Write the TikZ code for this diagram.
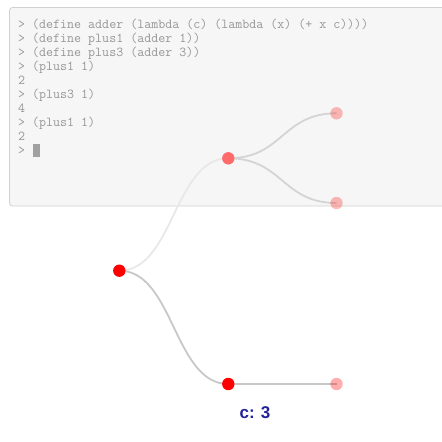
\documentclass[tikz,border=0pt]{standalone}
\usepackage{fontspec}
\setmainfont{Liberation Sans}
\setsansfont{Liberation Sans}
\definecolor{panelfill}{HTML}{F6F6F6}
\definecolor{paneldraw}{HTML}{D0D0D0}
\definecolor{replgray}{HTML}{979797}
\definecolor{linkgray}{HTML}{C8C8C8}
\definecolor{labelblue}{HTML}{22229A}
\tikzset{
  link/.style={draw=linkgray, line width=1.8pt},
  dot/.style={circle, fill=red, inner sep=0pt, minimum size=12.4pt},
  leaf/.style={dot, fill=red, fill opacity=0.27},
  repl/.style={anchor=base west, inner sep=0pt, text=replgray, font=\fontsize{13.6}{14}\selectfont\ttfamily}
}
\begin{document}
\begin{tikzpicture}[x=1pt, y=-1pt]
      \useasboundingbox (0,0) rectangle (442,442);
      % repl panel
      \filldraw[fill=panelfill, draw=paneldraw, line width=0.8pt, rounded corners=3pt] (9.5,7.5) rectangle (460,206);
      \foreach \i/\t in {0/{> (define adder (lambda (c) (lambda (x) (+ x c))))},
                         1/{> (define plus1 (adder 1))},
                         2/{> (define plus3 (adder 3))},
                         3/{> (plus1 1)},
                         4/{2},
                         5/{> (plus3 1)},
                         6/{4},
                         7/{> (plus1 1)},
                         8/{2},
                         9/{>}}
        \node[repl] (line\i) at (18,28.5+14*\i) {\t};
      \fill[replgray!90] (33.3,143.5) rectangle (40,156.5);
      % tree
      \coordinate (root) at (119.3,270.7);
      \coordinate (upper) at (228.3,158.3);
      \coordinate (lower) at (228.3,384);
      \coordinate (leafa) at (336.5,113.3);
      \coordinate (leafb) at (336.5,203);
      \coordinate (leafc) at (336.5,384);
      \draw[link, draw=black!9] (root) .. controls +(54.5,0) and +(-54.5,0) .. (upper);
      \draw[link] (root) .. controls +(54.5,0) and +(-54.5,0) .. (lower);
      \draw[link, draw=black!17] (upper) .. controls +(54.5,0) and +(-54.5,0) .. (leafa);
      \draw[link, draw=black!17] (upper) .. controls +(54.5,0) and +(-54.5,0) .. (leafb);
      \draw[link] (lower) -- (leafc);
      \node[dot] (rootdot) at (root) {};
      \node[dot, fill=red!58!white] (upperdot) at (upper) {};
      \node[dot] (lowerdot) at (lower) {};
      \node[leaf] (leafadot) at (leafa) {};
      \node[leaf] (leafbdot) at (leafb) {};
      \node[leaf, fill opacity=0.32] (leafcdot) at (leafc) {};
      \node[text=labelblue, font=\fontsize{17}{18}\selectfont\sffamily\bfseries, anchor=base] (clabel) at (255,418) {c: 3};
    \end{tikzpicture}
\end{document}
